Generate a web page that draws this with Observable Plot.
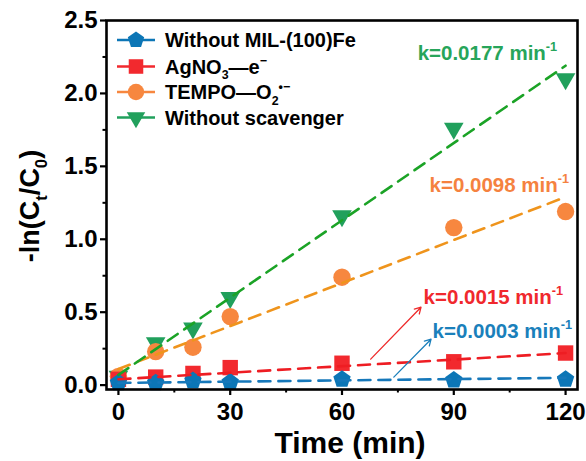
<!DOCTYPE html>
<html><head><meta charset="utf-8">
<script src="https://cdn.jsdelivr.net/npm/d3@7"></script>
<script src="https://cdn.jsdelivr.net/npm/@observablehq/plot@0.6"></script>
<style>body{margin:0;background:#fff} #chart{width:586px;height:461px}</style>
</head><body><div id="chart"></div>
<script>
// ---------- data ----------
const times = [0, 10, 20, 30, 60, 90, 120];
const seriesNames = ["Without MIL-(100)Fe", "AgNO_{3}—e^{−}", "TEMPO—O_{2}^{•−}", "Without scavenger"];
const valuesBlue   = [0.015, 0.015, 0.03, 0.02, 0.04, 0.035, 0.04];
const valuesRed    = [0.04, 0.055, 0.08, 0.12, 0.15, 0.16, 0.22];
const valuesOrange = [0.06, 0.23, 0.26, 0.47, 0.74, 1.08, 1.19];
const valuesGreen  = [0.06, 0.29, 0.39, 0.60, 1.16, 1.76, 2.10];
// fitted lines (value at t = 0 and t = 120)
const fitT = [0, 120];
const fitBlue   = [0.015, 0.05];
const fitRed    = [0.04, 0.22];
const fitOrange = [0.11, 1.29];
const fitGreen  = [0.07, 2.19];
// rate constants annotations
const annotText = ["k=0.0177 min^{-1}", "k=0.0098 min^{-1}", "k=0.0015 min^{-1}", "k=0.0003 min^{-1}"];
const annotT = [80.3, 83.5, 81.9, 84.3];
const annotV = [2.274, 1.37, 0.603, 0.37];
// arrows (red, blue)
const arrowT1 = [67.7, 73.9], arrowV1 = [0.178, 0.055];
const arrowT2 = [81.2, 83.9], arrowV2 = [0.534, 0.315];
// ticks
const xTicks = [0, 30, 60, 90, 120];
const xMinor = [15, 45, 75, 105];
const yTicks = [0, 0.5, 1.0, 1.5, 2.0, 2.5];
const yMinor = [0.25, 0.75, 1.25, 1.75, 2.25];

// ---------- styles ----------
const markerColors = ["#0c76b6", "#f2292e", "#f7873f", "#21a05c"];
const lineColors   = ["#1678ba", "#ee1d23", "#ef941c", "#1ba326"];
const annotColors  = ["#27a55a", "#f5823f", "#f0282d", "#1a80bb"];
const FONT = "'Liberation Sans', Arial, Helvetica, sans-serif";

const pentagon = {draw(ctx, size) {
  const r = Math.sqrt(size / Math.PI) * 1.05;
  for (let i = 0; i < 5; i++) {
    const a = -Math.PI / 2 + i * 2 * Math.PI / 5;
    const x = r * Math.cos(a), y = r * Math.sin(a);
    i ? ctx.lineTo(x, y) : ctx.moveTo(x, y);
  }
  ctx.closePath();
}};
const triDown = {draw(ctx, size) {
  const r = Math.sqrt(size / Math.PI) * 1.3;
  ctx.moveTo(0, r);
  ctx.lineTo(-r * 0.866, -r * 0.5);
  ctx.lineTo(r * 0.866, -r * 0.5);
  ctx.closePath();
}};
const symbols = [pentagon, "square", "circle", triDown];
const allValues = [valuesBlue, valuesRed, valuesOrange, valuesGreen];
const allFits = [fitBlue, fitRed, fitOrange, fitGreen];

const dotMarks = [3, 2, 1, 0].map(i =>
  Plot.dot(times.map((t, j) => ({t, v: allValues[i][j]})),
    {x: "t", y: "v", symbol: symbols[i], r: 8.7, fill: markerColors[i], stroke: "none"}));
const lineMarks = [0, 1, 2, 3].map(i =>
  Plot.line(fitT.map((t, j) => ({t, v: allFits[i][j]})),
    {x: "t", y: "v", stroke: lineColors[i], strokeWidth: 2.6, strokeDasharray: "12,8"}));
const annotMarks = annotText.map((s, i) =>
  Plot.text([s], {x: [annotT[i]], y: [annotV[i]], text: d => d, fill: annotColors[i],
    fontSize: 20.5, fontWeight: "bold", textAnchor: "start"}));
const arrowColors = ["#ee2a2a", "#1a7fbb"];
const arrowMarks = arrowT1.map((_, i) =>
  Plot.arrow([0], {x1: [arrowT1[i]], y1: [arrowV1[i]], x2: [arrowT2[i]], y2: [arrowV2[i]],
    stroke: arrowColors[i], strokeWidth: 1.3, headLength: 8}));

const plot = Plot.plot({
  width: 586, height: 461,
  marginLeft: 106, marginRight: 9, marginTop: 20, marginBottom: 72,
  x: {domain: [-3.2, 123.2]},
  y: {domain: [-0.03, 2.5]},
  style: {fontFamily: FONT, fontWeight: "bold", fontSize: "24px", color: "black", background: "white", overflow: "visible"},
  marks: [
    Plot.axisX(xTicks, {tickSize: 6, tickPadding: 7, strokeWidth: 2.2, tickFormat: d => String(d), label: null, fontSize: 24, fontWeight: "bold"}),
    Plot.axisX(xMinor, {tickSize: 3.5, strokeWidth: 2, tickFormat: () => "", label: null}),
    Plot.axisY(yTicks, {tickSize: 6, tickPadding: 3, strokeWidth: 2.2, tickFormat: d3.format(".1f"), label: null, fontSize: 24, fontWeight: "bold"}),
    Plot.axisY(yMinor, {tickSize: 3.5, strokeWidth: 2, tickFormat: () => "", label: null}),
    ...dotMarks,
    ...lineMarks,
    ...arrowMarks,
    ...annotMarks,
    Plot.frame({stroke: "black", strokeWidth: 2.6})
  ]
});

// ---------- rich text (sub/superscripts) ----------
function richify(el, fs) {
  const s = el.textContent;
  if (!/[_^]\{/.test(s)) return;
  while (el.firstChild) el.removeChild(el.firstChild);
  const re = /([_^])\{([^}]*)\}|([^_^]+)/g;
  let m, shift = 0;
  while ((m = re.exec(s))) {
    const ts = document.createElementNS("http://www.w3.org/2000/svg", "tspan");
    let target = 0, size = fs;
    if (m[1]) { size = fs * 0.62; target = m[1] === "_" ? fs * 0.28 : -fs * 0.42; ts.textContent = m[2]; }
    else ts.textContent = m[3];
    ts.setAttribute("font-size", size);
    const d = target - shift;
    if (d !== 0) ts.setAttribute("dy", d);
    shift = target;
    el.appendChild(ts);
  }
}
d3.select(plot).selectAll("text").each(function() { richify(this, 20.5); });

const svg = d3.select(plot);
// axis titles
const yl = svg.append("text").attr("transform", "translate(30,206) rotate(-90)")
  .attr("text-anchor", "middle").attr("dy", "0.35em")
  .attr("font-family", FONT).attr("font-weight", "bold").attr("font-size", 27).attr("fill", "black")
  .text("-ln(C_{t}/C_{0})");
richify(yl.node(), 27);
svg.append("text").attr("x", 350).attr("y", 453).attr("text-anchor", "middle")
  .attr("font-family", FONT).attr("font-weight", "bold").attr("font-size", 30).attr("fill", "black")
  .text("Time (min)");

// legend
const legendRows = [40, 66.5, 92, 117.5];
const r = 8.2;
seriesNames.forEach((name, i) => {
  const g = svg.append("g").attr("transform", `translate(0,${legendRows[i]})`);
  g.append("line").attr("x1", 117).attr("x2", 155).attr("y1", 0).attr("y2", 0)
    .attr("stroke", markerColors[i]).attr("stroke-width", 2.4);
  const sym = typeof symbols[i] === "string"
    ? (symbols[i] === "square" ? d3.symbolSquare : d3.symbolCircle) : symbols[i];
  g.append("path").attr("transform", "translate(136,0)")
    .attr("d", d3.symbol(sym, Math.PI * r * r)()).attr("fill", markerColors[i]);
  const t = g.append("text").attr("x", 165).attr("y", 0).attr("dy", "0.35em")
    .attr("text-anchor", "start")
    .attr("font-family", FONT).attr("font-weight", "bold").attr("font-size", 20).attr("fill", "black")
    .text(name);
  richify(t.node(), 20);
});

document.getElementById("chart").appendChild(plot);
</script>
</body></html>
